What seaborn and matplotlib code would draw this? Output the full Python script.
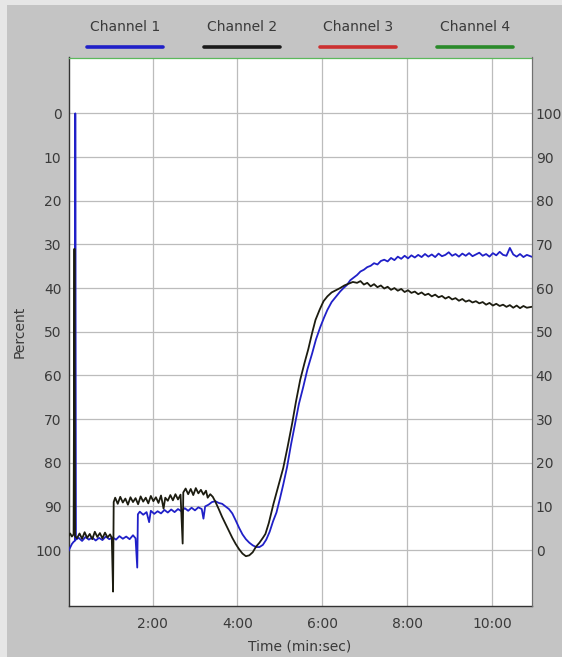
import matplotlib
matplotlib.use("Agg")
import matplotlib.pyplot as plt
import seaborn as sns
import pandas as pd
from matplotlib.lines import Line2D
from matplotlib.patches import Rectangle

# ---------------- data (time in minutes, value in "Percent", 0 at top) -------------
ch1_time = [0.02, 0.06, 0.10, 0.14, 0.17, 0.18, 0.195,
            0.26, 0.34, 0.42, 0.50, 0.58, 0.66, 0.74, 0.82, 0.90, 0.98, 1.06, 1.14,
            1.22, 1.30, 1.38, 1.46, 1.54, 1.60, 1.64, 1.655,
            1.70, 1.78, 1.86, 1.92, 1.96, 2.04, 2.12, 2.20, 2.28, 2.36, 2.44, 2.52,
            2.60, 2.68, 2.76, 2.84, 2.92, 3.00, 3.08, 3.16, 3.20, 3.24, 3.32, 3.40,
            3.48, 3.56, 3.64, 3.72, 3.80, 3.88, 3.96, 4.04, 4.12, 4.20, 4.28, 4.36,
            4.44, 4.52, 4.60, 4.68, 4.76, 4.84, 4.92, 5.00, 5.08, 5.17, 5.26, 5.36,
            5.45, 5.55, 5.65, 5.76, 5.85, 5.95, 6.04, 6.12, 6.22, 6.32, 6.42, 6.50,
            6.58, 6.66, 6.74, 6.82, 6.90, 6.98, 7.06, 7.14, 7.22, 7.30, 7.38, 7.46,
            7.54, 7.62, 7.70, 7.78, 7.86, 7.94, 8.02, 8.10, 8.18, 8.26, 8.34, 8.42,
            8.50, 8.58, 8.66, 8.74, 8.82, 8.90, 8.98, 9.06, 9.14, 9.22, 9.30, 9.38,
            9.46, 9.54, 9.62, 9.70, 9.78, 9.86, 9.94, 10.02, 10.10, 10.18, 10.26,
            10.34, 10.42, 10.50, 10.58, 10.66, 10.74, 10.82, 10.93]
ch1_value = [100.2, 99.4, 98.6, 98.1, 97.9, 0.0, 97.6,
             97.2, 97.9, 97.0, 97.6, 97.1, 97.8, 97.2, 97.7, 96.9, 97.5, 97.1, 97.6,
             96.8, 97.4, 96.9, 97.5, 96.6, 97.3, 104.0, 91.8,
             91.2, 91.9, 91.3, 93.6, 91.0, 91.7, 91.1, 91.6, 90.8, 91.4, 90.7, 91.3,
             90.6, 91.1, 90.4, 91.0, 90.3, 90.9, 90.2, 90.6, 92.8, 90.0, 89.6, 89.0,
             88.8, 89.2, 89.4, 90.0, 90.6, 91.6, 93.2, 94.9, 96.4, 97.5, 98.3, 98.9,
             99.3, 99.3, 98.8, 97.6, 95.8, 93.4, 91.4, 88.3, 85.0, 81.0, 76.0, 71.0,
             66.5, 62.7, 58.6, 55.0, 51.8, 49.0, 46.8, 45.0, 43.2, 42.0, 40.8, 40.0,
             39.3, 38.2, 37.6, 37.0, 36.2, 35.8, 35.2, 34.9, 34.3, 34.6, 33.8, 33.5,
             33.9, 33.1, 33.6, 32.8, 33.3, 32.6, 33.2, 32.5, 33.0, 32.4, 32.9, 32.2,
             32.8, 32.3, 32.9, 32.1, 32.7, 32.4, 31.8, 32.6, 32.2, 32.8, 32.1, 32.6,
             32.0, 32.7, 32.3, 31.9, 32.6, 32.2, 32.8, 32.0, 32.5, 31.7, 32.4,
             32.6, 30.8, 32.3, 32.8, 32.2, 32.9, 32.4, 32.8]

ch2_time = [0.02, 0.06, 0.10, 0.14, 0.16, 0.175,
            0.22, 0.28, 0.34, 0.40, 0.46, 0.52, 0.58, 0.64, 0.70, 0.76, 0.82, 0.88,
            0.94, 1.00, 1.04, 1.07, 1.085,
            1.12, 1.18, 1.24, 1.30, 1.36, 1.42, 1.48, 1.54, 1.60, 1.66, 1.72, 1.78,
            1.84, 1.90, 1.96, 2.02, 2.08, 2.14, 2.20, 2.26, 2.30, 2.36, 2.42, 2.48,
            2.54, 2.60, 2.66, 2.71, 2.725,
            2.78, 2.84, 2.90, 2.96, 3.02, 3.08, 3.14, 3.20, 3.26, 3.30, 3.36,
            3.42, 3.48, 3.56, 3.64, 3.72, 3.80, 3.88, 3.96, 4.04, 4.12, 4.20, 4.28,
            4.36, 4.44, 4.52, 4.60, 4.66, 4.74, 4.85, 4.96, 5.08, 5.18, 5.29, 5.38,
            5.48, 5.58, 5.67, 5.76, 5.84, 5.94, 6.03, 6.12, 6.22, 6.32, 6.42, 6.52,
            6.62, 6.72, 6.82, 6.90, 6.98, 7.06, 7.14, 7.22, 7.30, 7.38, 7.46, 7.54,
            7.62, 7.70, 7.78, 7.86, 7.94, 8.02, 8.10, 8.18, 8.26, 8.34, 8.42, 8.50,
            8.58, 8.66, 8.74, 8.82, 8.90, 8.98, 9.06, 9.14, 9.22, 9.30, 9.38, 9.46,
            9.54, 9.62, 9.70, 9.78, 9.86, 9.94, 10.02, 10.10, 10.18, 10.26, 10.34,
            10.42, 10.50, 10.58, 10.66, 10.74, 10.82, 10.93]
ch2_value = [96.8, 96.2, 96.9, 96.4, 31.0, 96.8,
             97.3, 96.2, 97.4, 95.9, 97.2, 96.3, 97.5, 95.8, 97.0, 96.1, 97.3, 96.0,
             97.1, 96.4, 97.2, 109.5, 89.0,
             88.0, 89.4, 87.8, 89.1, 88.2, 89.6, 87.9, 89.0, 88.1, 89.5, 87.7, 88.9,
             88.0, 89.3, 87.6, 88.8, 87.9, 89.2, 87.5, 90.5, 88.0, 88.7, 87.4, 88.6,
             87.2, 88.4, 87.3, 98.5, 86.8,
             85.9, 87.2, 86.0, 87.4, 85.8, 87.0, 86.2, 87.3, 86.4, 88.0, 87.2,
             87.8, 88.9, 90.6, 92.4, 94.0, 95.6, 97.2, 98.6, 99.8, 100.8, 101.4, 101.2,
             100.5, 99.2, 98.3, 97.2, 96.3, 93.8, 89.4, 85.5, 81.2, 76.5, 71.0, 66.0,
             61.0, 57.2, 54.0, 50.3, 47.3, 44.9, 43.0, 41.9, 41.0, 40.5, 40.0, 39.4,
             39.0, 38.6, 38.8, 38.4, 39.2, 38.8, 39.6, 39.1, 39.8, 39.4, 40.1, 39.7,
             40.4, 40.0, 40.6, 40.2, 40.9, 40.5, 41.1, 40.8, 41.4, 41.0, 41.6, 41.3,
             41.9, 41.5, 42.1, 41.8, 42.4, 42.0, 42.6, 42.3, 42.9, 42.5, 43.1, 42.8,
             43.3, 43.0, 43.5, 43.2, 43.8, 43.4, 44.0, 43.6, 44.1, 43.8, 44.3,
             43.9, 44.5, 44.0, 44.6, 44.1, 44.5, 44.3]

x_ticks = [2, 4, 6, 8, 10]
x_tick_labels = ["2:00", "4:00", "6:00", "8:00", "10:00"]
y_ticks = [0, 10, 20, 30, 40, 50, 60, 70, 80, 90, 100]
legend_labels = ["Channel 1", "Channel 2", "Channel 3", "Channel 4"]
legend_colors = ["#2020c8", "#1a1a1a", "#cc3030", "#2a8a2a"]

# ---------------- figure ----------------
W, H = 562, 657
fig = plt.figure(figsize=(W / 100, H / 100), dpi=100, facecolor="#c4c4c4")
plt.rcParams['font.family'] = ['DejaVu Sans']
txt_color = "#3a3a3a"

# light strips at top/left edges
fig.add_artist(Rectangle((0, 1 - 5 / H), 1, 5 / H, transform=fig.transFigure,
                         facecolor="#e6e6e6", edgecolor="none", zorder=-1))
fig.add_artist(Rectangle((0, 0), 7 / W, 1, transform=fig.transFigure,
                         facecolor="#e6e6e6", edgecolor="none", zorder=-1))

left, right = 68.5 / W, 531.5 / W
top, bottom = 1 - 57.5 / H, 1 - 606 / H
ax = fig.add_axes([left, bottom, right - left, top - bottom])
ax.set_facecolor("white")

df1 = pd.DataFrame({"t": ch1_time, "v": ch1_value})
df2 = pd.DataFrame({"t": ch2_time, "v": ch2_value})
sns.lineplot(data=df1, x="t", y="v", ax=ax, color=legend_colors[0], lw=1.3,
             sort=False, estimator=None, zorder=3)
sns.lineplot(data=df2, x="t", y="v", ax=ax, color="#1c1c10", lw=1.3,
             sort=False, estimator=None, zorder=4)

ax.set_xlim(0.02, 10.93)
ax.set_ylim(112.8, -12.8)
ax.set_xticks(x_ticks)
ax.set_xticklabels(x_tick_labels)
ax.set_yticks(y_ticks)
ax.set_yticklabels([str(v) for v in y_ticks])
ax.grid(True, color="#bcbcbc", lw=0.9)
ax.set_axisbelow(True)
ax.tick_params(length=0, labelsize=10, colors=txt_color)
ax.tick_params(axis="y", pad=5)
ax.tick_params(axis="x", pad=8)
ax.set_xlabel("Time (min:sec)", fontsize=10, color=txt_color, labelpad=6)
ax.set_ylabel("Percent", fontsize=10, color=txt_color, labelpad=6)

for s in ["left", "bottom"]:
    ax.spines[s].set_color("#333333")
    ax.spines[s].set_linewidth(1.0)
ax.spines["top"].set_color("#5cb85c")
ax.spines["top"].set_linewidth(0.9)
ax.spines["right"].set_color("#707070")

ax2 = ax.twinx()
ax2.set_ylim(-12.8, 112.8)
ax2.set_yticks(y_ticks)
ax2.set_yticklabels([str(v) for v in y_ticks])
ax2.tick_params(length=0, labelsize=10, colors=txt_color, pad=3)
for s in ["left", "bottom", "top"]:
    ax2.spines[s].set_visible(False)
ax2.spines["right"].set_color("#707070")

# legend across the top
centers = [125, 242, 358, 475]
for lab, col, cx in zip(legend_labels, legend_colors, centers):
    fig.text(cx / W, 1 - 27 / H, lab, ha="center", va="center",
             fontsize=10, color=txt_color)
    fig.add_artist(Line2D([(cx - 38) / W, (cx + 38) / W], [1 - 47 / H, 1 - 47 / H],
                          transform=fig.transFigure, color=col, lw=2.6,
                          solid_capstyle="round"))

fig.savefig("out.png", dpi=100, facecolor=fig.get_facecolor())
